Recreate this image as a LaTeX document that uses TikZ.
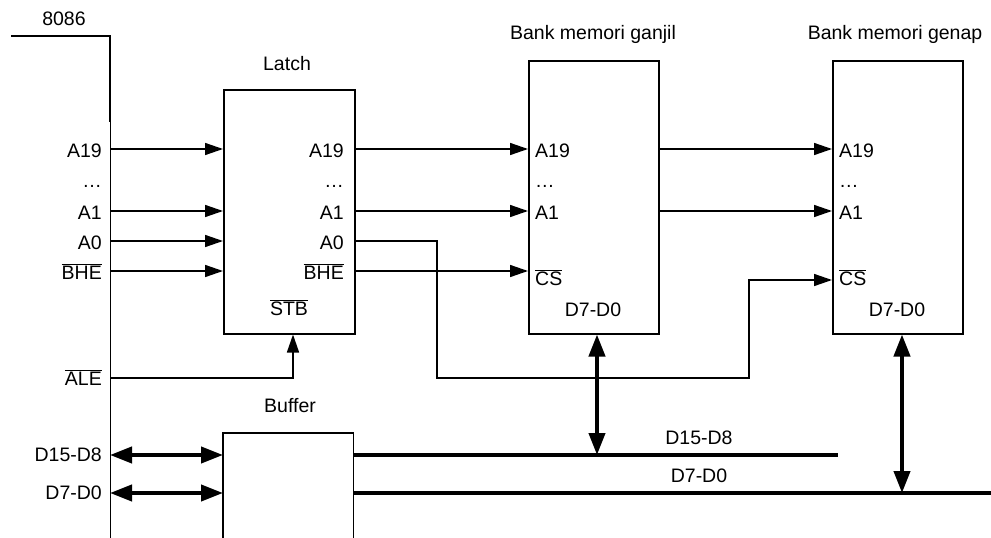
\documentclass[tikz,border=0pt]{standalone}
\usepackage{fontspec}
\setmainfont{Liberation Sans}
\usetikzlibrary{arrows.meta}
\newcommand\myov[1]{$\overline{\mbox{#1}}$}
\begin{document}
\begin{tikzpicture}[x=1pt,y=-1pt,
  every node/.style={font=\fontsize{19.5}{22}\selectfont, inner sep=0pt},
  blk/.style={draw, line width=1.5pt, anchor=north west, minimum width=130pt, minimum height=273pt},
  sig/.style={line width=1.5pt, -{Triangle[length=18pt,width=12pt]}},
  plain/.style={line width=1.5pt},
  bus/.style={line width=4pt},
  dbus/.style={line width=4pt, {Triangle[length=22pt,width=16pt]}-{Triangle[length=22pt,width=16pt]}},
  lr/.style={anchor=base east},
  ll/.style={anchor=base west},
  lc/.style={anchor=base}]
\useasboundingbox (0,0) rectangle (991,538);

% 8086 outline
\coordinate (cpuL) at (11,36);
\coordinate (cpuC) at (110,36);
\coordinate (cpuM) at (110,122);
\coordinate (cpuB) at (110,538);
\node (t8086) at (64,19) {8086};
\draw[line width=2pt] (cpuL) -- (cpuC) -- (cpuM);
\draw[line width=1pt] (cpuM) -- (cpuB);

% CPU pins
\coordinate (pA19) at (110,149);
\coordinate (pA1) at (110,211);
\coordinate (pA0) at (110,241);
\coordinate (pBHE) at (110,271);
\coordinate (pALE) at (110,378);
\coordinate (d1) at (110,455);
\coordinate (d0) at (110,493);
\node[lr] (cA19) at (102,157) {A19};
\node[lr] (cdots) at (102,187) {…};
\node[lr] (cA1) at (102,219) {A1};
\node[lr] (cA0) at (102,249) {A0};
\node[lr] (cBHE) at (102,279) {\myov{BHE}};
\node[lr] (cALE) at (102,385) {\myov{ALE}};
\node[lr] (cD1) at (102,461) {D15-D8};
\node[lr] (cD0) at (102,499) {D7-D0};

% Latch
\node[blk, minimum width=131pt, minimum height=244pt] (latch) at (223,89) {};
\node (tlatch) at (287,64) {Latch};
\node[lr] (lA19) at (344,157) {A19};
\node[lr] (ldots) at (344,187) {…};
\node[lr] (lA1) at (344,219) {A1};
\node[lr] (lA0) at (344,249) {A0};
\node[lr] (lBHE) at (344,279) {\myov{BHE}};
\node[lc] (lSTB) at (289,315) {\myov{STB}};

% Buffer (open at the bottom)
\node[anchor=north west, minimum width=130pt, minimum height=105pt] (buf) at (223,433) {};
\draw[plain] (buf.south west) |- (buf.north east) -- (buf.south east);
\node (tbuf) at (290,406) {Buffer};

% Memory banks
\node[blk] (ganjil) at (528,60) {};
\node (tganjil) at (593,34) {Bank memori ganjil};
\node[ll] (gA19) at (535,157) {A19};
\node[ll] (gdots) at (535,187) {…};
\node[ll] (gA1) at (535,219) {A1};
\node[ll] (gCS) at (535,285) {\myov{CS}};
\node[lc] (gD) at (593,316) {D7-D0};

\node[blk] (genap) at (832,60) {};
\node (tgenap) at (895,34) {Bank memori genap};
\node[ll] (eA19) at (839,157) {A19};
\node[ll] (edots) at (839,187) {…};
\node[ll] (eA1) at (839,219) {A1};
\node[ll] (eCS) at (839,285) {\myov{CS}};
\node[lc] (eD) at (897,316) {D7-D0};

% CPU -> latch
\draw[sig] (pA19) -- (latch.west |- pA19);
\draw[sig] (pA1) -- (latch.west |- pA1);
\draw[sig] (pA0) -- (latch.west |- pA0);
\draw[sig] (pBHE) -- (latch.west |- pBHE);
\coordinate (stbx) at (293,0);
\draw[sig] (pALE) -| (latch.south -| stbx);

% latch -> banks
\draw[sig] (latch.east |- pA19) -- (ganjil.west |- pA19);
\draw[sig] (ganjil.east |- pA19) -- (genap.west |- pA19);
\draw[sig] (latch.east |- pA1) -- (ganjil.west |- pA1);
\draw[sig] (ganjil.east |- pA1) -- (genap.west |- pA1);
\draw[sig] (latch.east |- pBHE) -- (ganjil.west |- pBHE);
\coordinate (j1) at (437,378);
\coordinate (j2) at (749,280);
\draw[sig] (latch.east |- pA0) -| (j1) -| (j2) -- (genap.west |- j2);

% data buses
\draw[dbus] (d1) -- (buf.west |- d1);
\draw[dbus] (d0) -- (buf.west |- d0);
\coordinate (e1) at (838,455);
\coordinate (e0) at (991,493);
\draw[bus] (buf.east |- d1) -- (e1);
\draw[bus] (buf.east |- d0) -- (e0);
\node[lc] (tD1) at (699,444) {D15-D8};
\node[lc] (tD0) at (699,482) {D7-D0};
\coordinate (g1) at (597,455);
\coordinate (g0) at (902,493);
\draw[dbus] (ganjil.south -| g1) -- (g1);
\draw[dbus] (genap.south -| g0) -- (g0);
\end{tikzpicture}
\end{document}
